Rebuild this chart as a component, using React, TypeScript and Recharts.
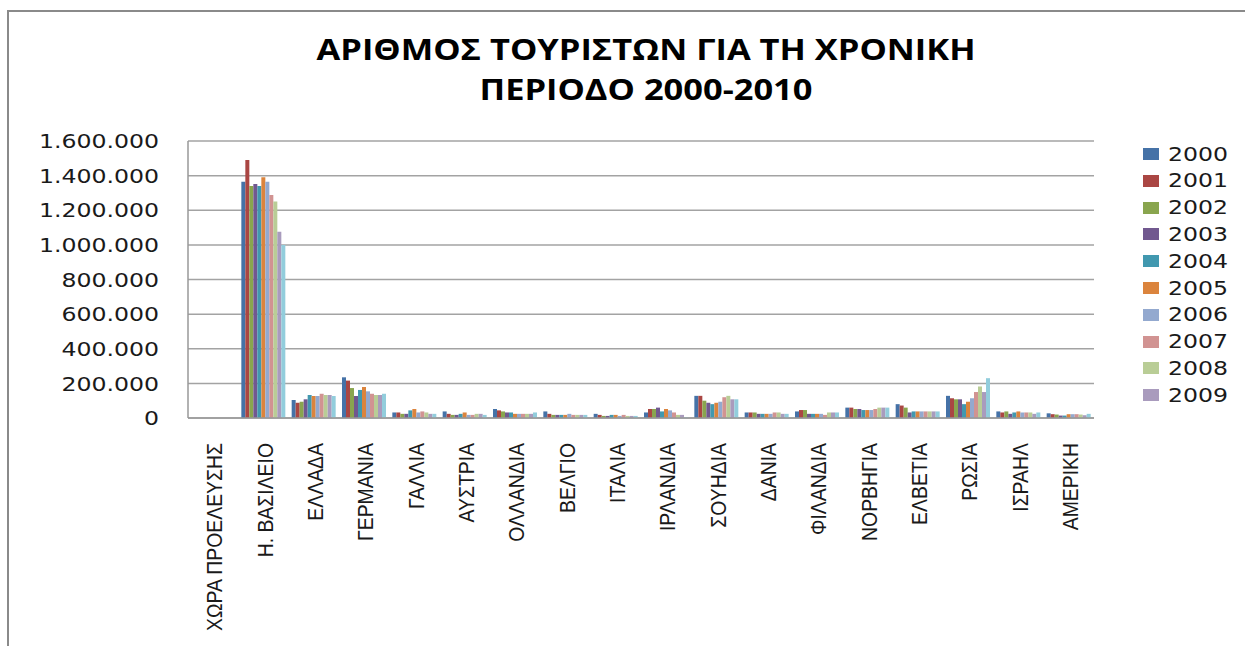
import { BarChart, Bar, XAxis, YAxis, CartesianGrid } from 'recharts';

const countries = [
  'ΧΩΡΑ ΠΡΟΕΛΕΥΣΗΣ', 'Η. ΒΑΣΙΛΕΙΟ', 'ΕΛΛΑΔΑ', 'ΓΕΡΜΑΝΙΑ', 'ΓΑΛΛΙΑ', 'ΑΥΣΤΡΙΑ',
  'ΟΛΛΑΝΔΙΑ', 'ΒΕΛΓΙΟ', 'ΙΤΑΛΙΑ', 'ΙΡΛΑΝΔΙΑ', 'ΣΟΥΗΔΙΑ', 'ΔΑΝΙΑ',
  'ΦΙΛΑΝΔΙΑ', 'ΝΟΡΒΗΓΙΑ', 'ΕΛΒΕΤΙΑ', 'ΡΩΣΙΑ', 'ΙΣΡΑΗΛ', 'ΑΜΕΡΙΚΗ',
];

const years = ['2000', '2001', '2002', '2003', '2004', '2005', '2006', '2007', '2008', '2009', '2010'];

// first category is the header row of the sheet, it has no values
const v2000 = [null, 1365000, 104000, 235000, 32000, 38000, 52000, 38000, 24000, 32000, 128000, 32000, 38000, 60000, 80000, 128000, 38000, 27000];
const v2001 = [null, 1490000, 88000, 216000, 32000, 24000, 44000, 24000, 18000, 52000, 128000, 32000, 46000, 60000, 72000, 114000, 32000, 22000];
const v2002 = [null, 1340000, 94000, 173000, 24000, 18000, 38000, 18000, 12000, 52000, 100000, 32000, 46000, 52000, 60000, 108000, 38000, 20000];
const v2003 = [null, 1352000, 108000, 127000, 24000, 18000, 32000, 18000, 12000, 60000, 88000, 24000, 24000, 52000, 32000, 108000, 24000, 14000];
const v2004 = [null, 1340000, 133000, 162000, 44000, 24000, 32000, 18000, 18000, 38000, 80000, 24000, 24000, 46000, 38000, 80000, 32000, 14000];
const v2005 = [null, 1390000, 127000, 179000, 52000, 32000, 24000, 18000, 18000, 52000, 88000, 24000, 24000, 46000, 38000, 94000, 38000, 22000];
const v2006 = [null, 1365000, 127000, 154000, 32000, 18000, 24000, 24000, 12000, 44000, 94000, 24000, 24000, 46000, 38000, 114000, 32000, 22000];
const v2007 = [null, 1288000, 140000, 140000, 38000, 18000, 24000, 18000, 18000, 32000, 120000, 32000, 18000, 52000, 38000, 150000, 32000, 22000];
const v2008 = [null, 1250000, 133000, 133000, 32000, 24000, 24000, 18000, 12000, 18000, 128000, 32000, 32000, 60000, 38000, 182000, 32000, 20000];
const v2009 = [null, 1076000, 133000, 133000, 24000, 24000, 24000, 18000, 12000, 18000, 108000, 24000, 32000, 60000, 38000, 150000, 24000, 16000];
const v2010 = [null, 999000, 127000, 140000, 24000, 18000, 32000, 18000, 12000, 4000, 108000, 24000, 32000, 60000, 38000, 230000, 32000, 24000];

const series = [v2000, v2001, v2002, v2003, v2004, v2005, v2006, v2007, v2008, v2009, v2010];

const colors = [
  '#4572A7', '#AA4643', '#89A54E', '#71588F', '#4198AF', '#DB843D',
  '#93A9CF', '#D19392', '#B9CD96', '#A99BBD', '#92CDDC',
];

const yTicks = [0, 200000, 400000, 600000, 800000, 1000000, 1200000, 1400000, 1600000];

// the legend in the source only shows the first ten years
const legendYears = years.slice(0, 10);

const data = countries.map((name, i) => {
  const row: Record<string, string | number | null> = { name };
  years.forEach((y, s) => {
    row[y] = series[s][i];
  });
  return row;
});

const fmt = (v: number) => String(v).replace(/\B(?=(\d{3})+(?!\d))/g, '.');

const STRETCH = 1.18;

function YTick({ x, y, payload }: any) {
  return (
    <text
      transform={`translate(${x - 27}, ${y}) scale(${STRETCH}, 1)`}
      textAnchor="end"
      dy="0.36em"
      fontFamily="DejaVu Sans"
      fontSize={20}
      fill="#1a1a1a"
    >
      {fmt(payload.value)}
    </text>
  );
}

function XTick({ x, y, payload }: any) {
  return (
    <text
      transform={`translate(${x + 1}, ${y + 23}) rotate(-90) scale(1, ${STRETCH})`}
      textAnchor="end"
      dy="0.36em"
      fontFamily="Liberation Sans, Arial, sans-serif"
      fontSize={19.4}
      fill="#1a1a1a"
    >
      {payload.value}
    </text>
  );
}

export default function App() {
  return (
    <div style={{ position: 'fixed', left: 0, top: 0, width: 1245, height: 646, overflow: 'hidden', background: '#fff' }}>
      <div style={{ position: 'absolute', left: 7, top: 10, width: 2, height: 636, background: '#8a8a8a' }} />
      <div style={{ position: 'absolute', left: 7, top: 10, width: 1238, height: 2, background: '#8a8a8a' }} />

      <div
        style={{
          position: 'absolute',
          left: 246,
          top: 29,
          width: 800,
          textAlign: 'center',
          fontFamily: '"Open Sans", sans-serif',
          fontWeight: 700,
          fontSize: 28,
          lineHeight: '40px',
          color: '#000',
          transform: 'scaleX(1.23)',
        }}
      >
        ΑΡΙΘΜΟΣ ΤΟΥΡΙΣΤΩΝ ΓΙΑ ΤΗ ΧΡΟΝΙΚΗ
        <br />
        ΠΕΡΙΟΔΟ 2000-2010
      </div>

      <div style={{ position: 'absolute', left: 0, top: 0 }}>
        <BarChart
          width={1245}
          height={646}
          data={data}
          margin={{ top: 141, right: 151, bottom: 0, left: 0 }}
          barCategoryGap={3}
          barGap={0}
        >
          <CartesianGrid vertical={false} stroke="#a3a3a3" strokeWidth={1.5} />
          <XAxis
            dataKey="name"
            height={228}
            interval={0}
            tickLine={false}
            tickSize={0}
            axisLine={{ stroke: '#999', strokeWidth: 1.5 }}
            tick={<XTick />}
          />
          <YAxis
            width={188}
            domain={[0, 1600000]}
            ticks={yTicks}
            tickLine={false}
            tickSize={0}
            axisLine={{ stroke: '#999', strokeWidth: 1.5 }}
            tick={<YTick />}
          />
          {years.map((y, s) => (
            <Bar key={y} dataKey={y} fill={colors[s]} isAnimationActive={false} />
          ))}
        </BarChart>
      </div>

      {legendYears.map((y, i) => (
        <div
          key={y}
          style={{
            position: 'absolute',
            left: 1143,
            top: 140.5 + 26.8 * i,
            height: 27,
            display: 'flex',
            alignItems: 'center',
          }}
        >
          <div style={{ width: 16, height: 12, background: colors[i] }} />
          <div
            style={{
              marginLeft: 9,
              fontFamily: '"DejaVu Sans", sans-serif',
              fontSize: 20,
              lineHeight: '27px',
              color: '#1a1a1a',
              transform: `scaleX(${STRETCH})`,
              transformOrigin: 'left center',
            }}
          >
            {y}
          </div>
        </div>
      ))}
    </div>
  );
}
